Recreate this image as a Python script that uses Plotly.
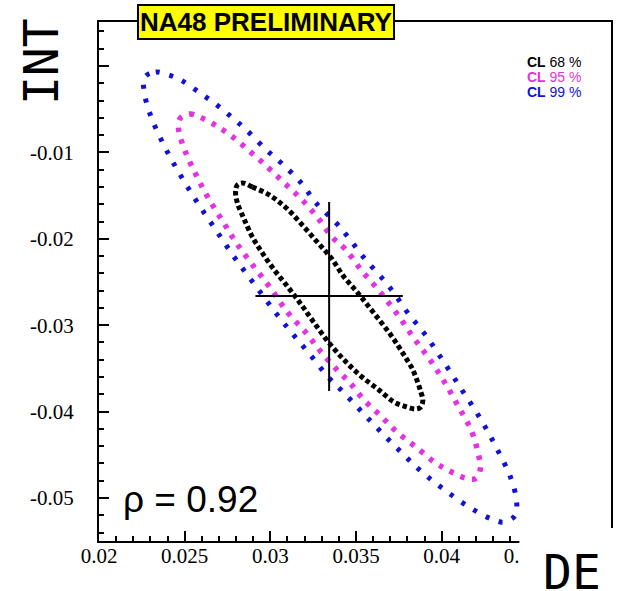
import plotly.graph_objects as go

# ---- data ----
cl68_x = [0.02837, 0.02895, 0.02994, 0.03093, 0.03186, 0.03273, 0.03355, 0.03430, 0.03506, 0.03576,
          0.03645, 0.03703, 0.03750, 0.03791, 0.03826, 0.03855, 0.03878, 0.03890, 0.03878, 0.03849,
          0.03797, 0.03721, 0.03634, 0.03535, 0.03442, 0.03343, 0.03244, 0.03169, 0.03093, 0.03023,
          0.02953, 0.02895, 0.02849, 0.02808, 0.02797, 0.02808, 0.02837]
cl68_y = [-0.01354, -0.01400, -0.01493, -0.01644, -0.01840, -0.02037, -0.02222, -0.02442, -0.02616, -0.02789,
          -0.02963, -0.03113, -0.03252, -0.03380, -0.03495, -0.03634, -0.03773, -0.03866, -0.03947, -0.03970,
          -0.03947, -0.03889, -0.03750, -0.03600, -0.03426, -0.03206, -0.02940, -0.02731, -0.02535, -0.02361,
          -0.02164, -0.01979, -0.01782, -0.01586, -0.01458, -0.01377, -0.01354]

cl95_x = [0.02471, 0.02529, 0.02587, 0.02686, 0.02773, 0.02878, 0.02983, 0.03081, 0.03180, 0.03273,
          0.03360, 0.03436, 0.03535, 0.03645, 0.03744, 0.03837, 0.03936, 0.04023, 0.04099, 0.04174,
          0.04215, 0.04227, 0.04203, 0.04157, 0.04058, 0.03965, 0.03849, 0.03738, 0.03645, 0.03547,
          0.03465, 0.03390, 0.03291, 0.03209, 0.03099, 0.03000, 0.02901, 0.02802, 0.02721, 0.02634,
          0.02564, 0.02500, 0.02465, 0.02471]
cl95_y = [-0.00613, -0.00556, -0.00590, -0.00694, -0.00810, -0.00984, -0.01169, -0.01354, -0.01539, -0.01748,
          -0.01979, -0.02118, -0.02373, -0.02627, -0.02882, -0.03148, -0.03414, -0.03681, -0.03947, -0.04225,
          -0.04502, -0.04641, -0.04769, -0.04780, -0.04699, -0.04595, -0.04410, -0.04236, -0.04051, -0.03866,
          -0.03669, -0.03519, -0.03299, -0.03090, -0.02847, -0.02569, -0.02315, -0.02049, -0.01794, -0.01516,
          -0.01250, -0.00972, -0.00741, -0.00613]

cl99_x = [0.02267, 0.02331, 0.02407, 0.02477, 0.02581, 0.02680, 0.02773, 0.02860, 0.02977, 0.03064,
          0.03180, 0.03267, 0.03384, 0.03453, 0.03547, 0.03651, 0.03721, 0.03802, 0.03901, 0.04012,
          0.04122, 0.04227, 0.04320, 0.04401, 0.04436, 0.04430, 0.04366, 0.04291, 0.04169, 0.04017,
          0.03878, 0.03762, 0.03640, 0.03529, 0.03419, 0.03337, 0.03238, 0.03140, 0.03041, 0.02919,
          0.02797, 0.02686, 0.02576, 0.02471, 0.02378, 0.02302, 0.02262, 0.02267]
cl99_y = [-0.00127, -0.00069, -0.00104, -0.00162, -0.00301, -0.00440, -0.00590, -0.00741, -0.00972, -0.01123,
          -0.01354, -0.01586, -0.01817, -0.01979, -0.02222, -0.02454, -0.02627, -0.02859, -0.03102, -0.03426,
          -0.03762, -0.04086, -0.04421, -0.04757, -0.05023, -0.05197, -0.05278, -0.05243, -0.05116, -0.04907,
          -0.04688, -0.04468, -0.04225, -0.03993, -0.03762, -0.03600, -0.03356, -0.03125, -0.02882, -0.02558,
          -0.02234, -0.01910, -0.01586, -0.01250, -0.00914, -0.00579, -0.00278, -0.00127]

best_x = [0.03343]
best_y = [-0.02662]
err_x = [0.0043]
err_y_plus = [0.01088]
err_y_minus = [0.0110]

x_tickvals = [0.02, 0.025, 0.03, 0.035, 0.04, 0.045]
x_ticktext = ["0.02", "0.025", "0.03", "0.035", "0.04", "0.045"]
y_tickvals = [0.0, -0.01, -0.02, -0.03, -0.04, -0.05]
y_ticktext = ["", "-0.01", "-0.02", "-0.03", "-0.04", "-0.05"]

legend_labels = ["68 %", "95 %", "99 %"]
colors = ["#000000", "#e232e2", "#1212d6"]

fig = go.Figure()

fig.add_trace(go.Scatter(x=cl99_x, y=cl99_y, mode="lines", line_shape="spline",
                         line=dict(color=colors[2], width=5, dash="4px,10px"),
                         hoverinfo="skip", showlegend=False))
fig.add_trace(go.Scatter(x=cl95_x, y=cl95_y, mode="lines", line_shape="spline",
                         line=dict(color=colors[1], width=5.5, dash="4.5px,7.5px"),
                         hoverinfo="skip", showlegend=False))
fig.add_trace(go.Scatter(x=cl68_x, y=cl68_y, mode="lines", line_shape="spline",
                         line=dict(color=colors[0], width=5, dash="4.5px,3px"),
                         hoverinfo="skip", showlegend=False))
fig.add_trace(go.Scatter(x=best_x, y=best_y, mode="markers",
                         marker=dict(size=2, color="black"),
                         error_x=dict(type="data", array=err_x, width=0, thickness=2, color="black"),
                         error_y=dict(type="data", array=err_y_plus, arrayminus=err_y_minus,
                                      width=0, thickness=2, color="black"),
                         hoverinfo="skip", showlegend=False))

axis_font = dict(family="Liberation Serif", size=21, color="black")

fig.update_xaxes(range=[0.02, 0.04988], showline=True, linewidth=2, linecolor="black", mirror=True,
                 ticks="inside", ticklen=10, tickwidth=2, tickcolor="black",
                 tickmode="array", tickvals=x_tickvals, ticktext=x_ticktext,
                 minor=dict(tickmode="linear", tick0=0.02, dtick=0.001, ticks="inside",
                            ticklen=5, tickwidth=2, tickcolor="black"),
                 showgrid=False, zeroline=False, tickfont=axis_font, ticklabelstandoff=-5)
fig.update_yaxes(range=[-0.05498, 0.00509], showline=True, linewidth=2, linecolor="black", mirror=True,
                 ticks="inside", ticklen=10, tickwidth=2, tickcolor="black",
                 tickmode="array", tickvals=y_tickvals, ticktext=y_ticktext,
                 minor=dict(tickmode="linear", tick0=0, dtick=0.002, ticks="inside",
                            ticklen=5, tickwidth=2, tickcolor="black"),
                 showgrid=False, zeroline=False, tickfont=axis_font, ticklabelstandoff=19)

annotations = [
    dict(text="NA48 PRELIMINARY", xref="paper", yref="paper", x=0.327, y=1.0,
         xanchor="center", yanchor="middle", showarrow=False,
         font=dict(family="Liberation Sans", size=26, color="black", weight="bold"),
         bgcolor="#ffff00", bordercolor="black", borderwidth=2, borderpad=1),
    dict(text="ρ = 0.92", xref="paper", yref="paper", x=0.043, y=0.079,
         xanchor="left", yanchor="middle", showarrow=False,
         font=dict(family="Liberation Sans", size=37, color="black")),
    dict(text="INT", xref="paper", yref="paper", x=-0.113, y=0.923, textangle=-90,
         xanchor="center", yanchor="middle", showarrow=False,
         font=dict(family="DejaVu Sans Mono", size=48, color="black")),
    dict(text="DE", xref="paper", yref="paper", x=0.923, y=-0.06,
         xanchor="center", yanchor="middle", showarrow=False,
         font=dict(family="DejaVu Sans Mono", size=48, color="black")),
]
leg_y_px = [62, 77, 92]
for lab, col, ypx in zip(legend_labels, colors, leg_y_px):
    annotations.append(dict(text="<b>CL</b> " + lab, xref="paper", yref="paper",
                            x=(585 - 99) / 514, y=(541 - ypx) / 519,
                            xanchor="right", yanchor="middle", showarrow=False,
                            font=dict(family="Liberation Sans", size=14, color=col)))

fig.update_layout(
    width=619, height=591,
    margin=dict(l=99, r=6, t=22, b=50),
    paper_bgcolor="white", plot_bgcolor="white",
    annotations=annotations,
    shapes=[dict(type="rect", xref="paper", yref="paper",
                 x0=(521 - 99) / 514, x1=1.02, y0=(541 - 528) / 519, y1=-0.2,
                 fillcolor="white", line=dict(width=0), layer="above")],
    showlegend=False,
    hovermode=False,
)

fig.write_html("out.html", config={"displayModeBar": False},
               post_script="document.body.style.margin='0';")
